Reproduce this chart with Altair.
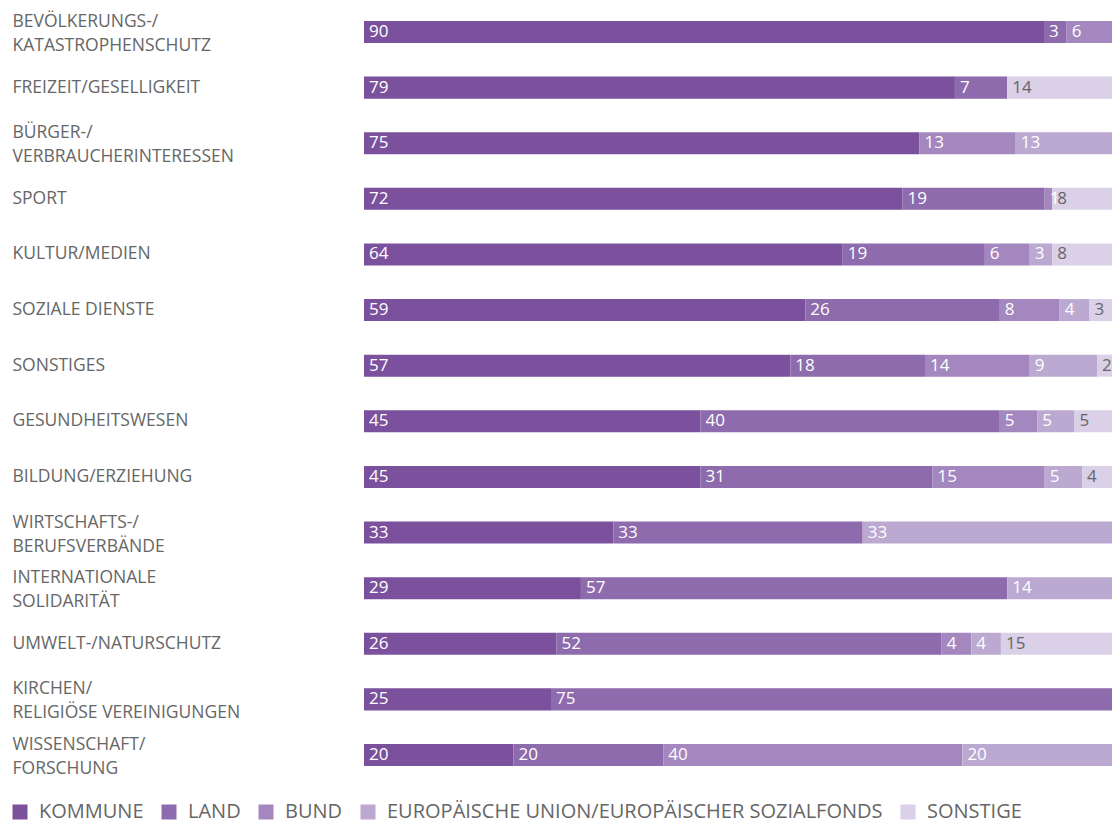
import altair as alt
import pandas as pd

categories = [
    "BEVÖLKERUNGS-/|KATASTROPHENSCHUTZ",
    "FREIZEIT/GESELLIGKEIT",
    "BÜRGER-/|VERBRAUCHERINTERESSEN",
    "SPORT",
    "KULTUR/MEDIEN",
    "SOZIALE DIENSTE",
    "SONSTIGES",
    "GESUNDHEITSWESEN",
    "BILDUNG/ERZIEHUNG",
    "WIRTSCHAFTS-/|BERUFSVERBÄNDE",
    "INTERNATIONALE|SOLIDARITÄT",
    "UMWELT-/NATURSCHUTZ",
    "KIRCHEN/|RELIGIÖSE VEREINIGUNGEN",
    "WISSENSCHAFT/|FORSCHUNG",
]

series = ["KOMMUNE", "LAND", "BUND", "EUROPÄISCHE UNION/EUROPÄISCHER SOZIALFONDS", "SONSTIGE"]
colors = ["#7B519D", "#8D6BAD", "#A487BE", "#BCA9D1", "#DAD0E7"]

kommune  = [90, 79, 75, 72, 64, 59, 57, 45, 45, 33, 29, 26, 25, 20]
land     = [3, 7, 0, 19, 19, 26, 18, 40, 31, 33, 57, 52, 75, 20]
bund     = [6, 0, 13, 1, 6, 8, 14, 5, 15, 0, 0, 4, 0, 40]
eu       = [0, 0, 13, 0, 3, 4, 9, 5, 5, 33, 14, 4, 0, 20]
sonstige = [0, 14, 0, 8, 8, 3, 2, 5, 4, 0, 0, 15, 0, 0]

rows = []
for i, cat in enumerate(categories):
    for j, vals in enumerate([kommune, land, bund, eu, sonstige]):
        if vals[i] > 0:
            rows.append({"cat": cat, "series": series[j], "order": j, "value": vals[i]})
df = pd.DataFrame(rows)

FONT = "Open Sans"
GREY = "#666666"

base = alt.Chart(df).transform_stack(
    stack="value",
    groupby=["cat"],
    as_=["x0", "x1"],
    offset="normalize",
    sort=[alt.SortField("order", order="ascending")],
)

yenc = alt.Y(
    "cat:N",
    sort=categories,
    scale=alt.Scale(paddingInner=0.604, paddingOuter=0.234),
    axis=alt.Axis(
        title=None,
        domain=False,
        ticks=False,
        tickSize=0,
        labelAlign="left",
        labelBaseline="middle",
        labelPadding=352,
        labelFont=FONT,
        labelFontSize=17.5,
        labelColor=GREY,
        labelLimit=0,
        labelLineHeight=24,
        labelOffset={
            "condition": {"test": "indexof(datum.value, '|') >= 0", "value": -10},
            "value": 0,
        },
        labelExpr="split(datum.label, '|')",
    ),
)

bars = base.mark_bar().encode(
    y=yenc,
    x=alt.X("x0:Q", scale=alt.Scale(domain=[0, 1]), axis=None),
    x2="x1:Q",
    color=alt.Color(
        "series:N",
        scale=alt.Scale(domain=series, range=colors),
        legend=alt.Legend(
            title=None,
            orient="none",
            direction="horizontal",
            legendX=-354,
            legendY=794,
            symbolType="square",
            symbolSize=225,
            symbolStrokeWidth=0,
            symbolOpacity=1,
            labelFont=FONT,
            labelFontSize=20,
            labelColor=GREY,
            labelOffset=9,
            columnPadding=15,
            labelLimit=0,
        ),
    ),
)

texts = base.mark_text(align="left", baseline="middle", dx=5, font=FONT, fontSize=17).encode(
    y=alt.Y("cat:N", sort=categories),
    x=alt.X("x0:Q"),
    text=alt.Text("value:Q"),
    color=alt.condition(alt.datum.series == "SONSTIGE", alt.value(GREY), alt.value("white")),
)

chart = (
    alt.layer(bars, texts)
    .properties(
        width=748,
        height=771,
        autosize=alt.AutoSizeParams(type="none"),
        padding={"left": 356, "top": 0, "right": 0, "bottom": 44},
    )
    .configure_view(stroke=None)
)

chart.save("out.html", embed_options={"renderer": "svg", "actions": False})
